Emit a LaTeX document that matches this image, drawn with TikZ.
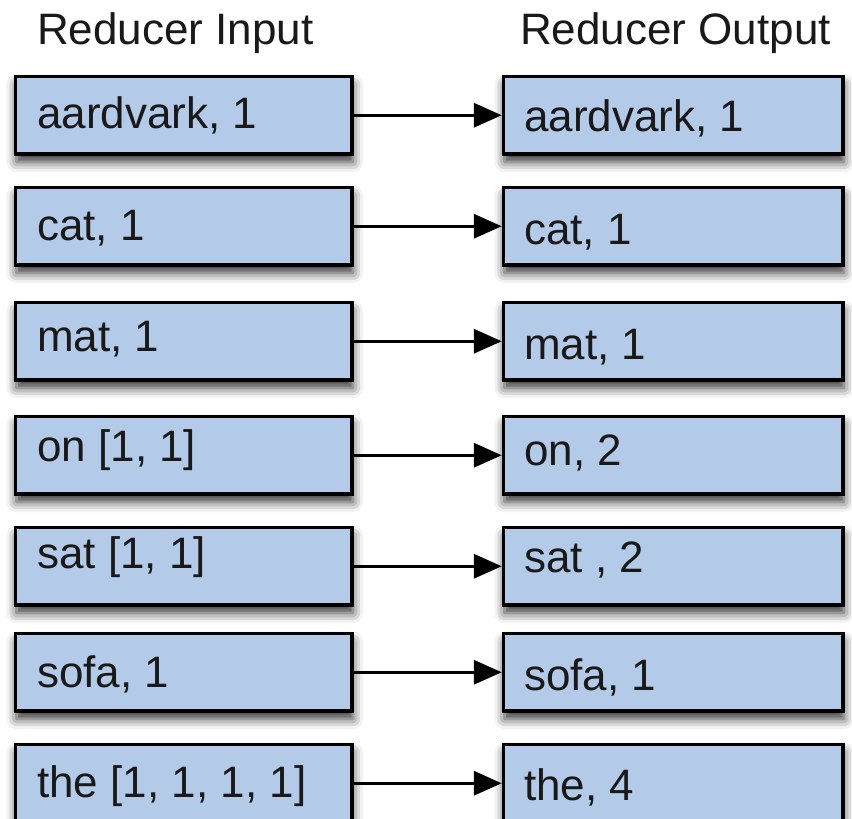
\documentclass[tikz,border=0pt]{standalone}
\usepackage{fontspec}
\setmainfont{Liberation Sans}
\usetikzlibrary{shadows.blur,arrows.meta}
\definecolor{boxblue}{RGB}{180,202,233}
\begin{document}
\begin{tikzpicture}[x=1pt,y=-1pt,
  box/.style={draw=black, line width=3.5pt, fill=boxblue, minimum height=77.5pt,
    inner sep=0pt, anchor=north west,
    blur shadow={shadow xshift=1pt, shadow yshift=-8pt, shadow blur radius=10pt, shadow opacity=80}},
  lbox/.style={box, minimum width=336.5pt},
  rbox/.style={box, minimum width=339.5pt},
  lbl/.style={anchor=base west, inner sep=0pt, text=black!90, font=\fontsize{44}{44}\selectfont},
  conn/.style={line width=3.5pt, -{Triangle[length=28pt,width=24pt]}}]
\useasboundingbox (0,0) rectangle (852,819);
\node[lbl] (tin) at (37,44) {Reducer Input};
\node[lbl] (tout) at (520,44) {Reducer Output};
\foreach \i/\t/\lb/\rb/\lt/\rt in {
  1/73/128/131/{aardvark, 1}/{aardvark, 1},
  2/184/240/244/{cat, 1}/{cat, 1},
  3/299/351/359/{mat, 1}/{mat, 1},
  4/413/461/465/{on [1, 1]}/{on, 2},
  5/524/568/572/{sat [1, 1]}/{sat , 2},
  6/630/687/690/{sofa, 1}/{sofa, 1},
  7/741/797/800/{the [1, 1, 1, 1]}/{the, 4}} {
  \node[lbox] (l\i) at (13.75,\t+1.75) {};
  \node[rbox] (r\i) at (501.75,\t+1.75) {};
  \node[lbl] (lt\i) at (37,\lb) {\lt};
  \node[lbl] (rt\i) at (524,\rb) {\rt};
}
\foreach \i in {1,...,7} {
  \draw[conn] (l\i.east) -- (r\i.west);
}
\end{tikzpicture}
\end{document}
